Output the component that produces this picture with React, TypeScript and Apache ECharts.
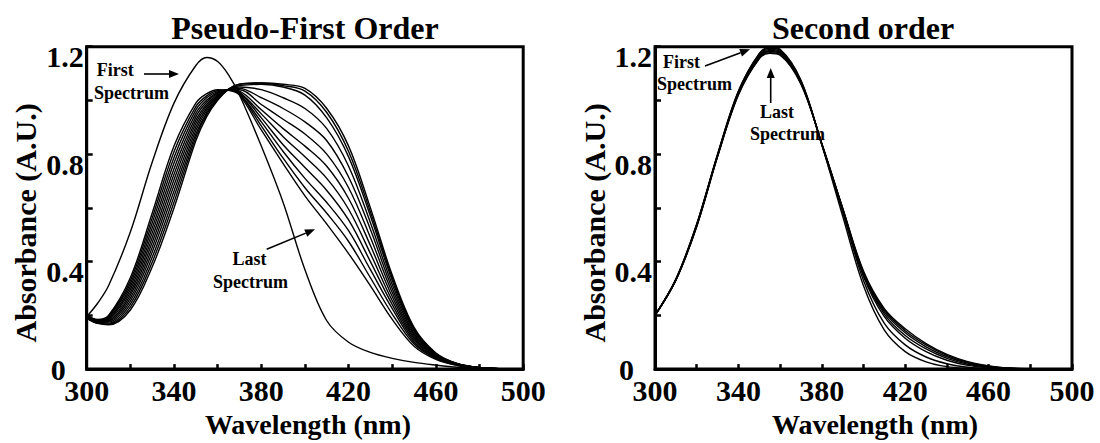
import React, { useEffect, useRef } from "react";
import * as echarts from "echarts";

// ---------- data ----------
const wavelengthsLeft = [300, 305, 310, 320, 330, 340, 350, 355, 360, 365, 370, 380, 390, 400, 410, 420, 430, 440, 450, 460, 470, 480, 490, 500];

const pfoFirst = [0.195, 0.245, 0.31, 0.51, 0.77, 0.99, 1.13, 1.16, 1.145, 1.095, 1.02, 0.83, 0.62, 0.37, 0.18, 0.1, 0.062, 0.04, 0.025, 0.015, 0.007, 0.003, 0.001, 0];
const pfo1 = [0.19, 0.17, 0.165, 0.22, 0.38, 0.6, 0.85, 0.94, 1.0, 1.042, 1.06, 1.065, 1.06, 1.045, 0.97, 0.83, 0.6, 0.35, 0.155, 0.06, 0.02, 0.006, 0.001, 0];
const pfo2 = [0.19, 0.171, 0.168, 0.231, 0.398, 0.621, 0.863, 0.948, 1.004, 1.042, 1.06, 1.065, 1.055, 1.035, 0.955, 0.81, 0.585, 0.34, 0.15, 0.058, 0.02, 0.006, 0.001, 0];
const pfo3 = [0.19, 0.173, 0.171, 0.242, 0.416, 0.642, 0.875, 0.955, 1.007, 1.041, 1.055, 1.06, 1.05, 1.02, 0.935, 0.79, 0.57, 0.33, 0.145, 0.056, 0.019, 0.006, 0.001, 0];
const pfo4 = [0.195, 0.174, 0.175, 0.253, 0.435, 0.663, 0.888, 0.963, 1.011, 1.041, 1.05, 1.04, 1.01, 0.97, 0.895, 0.755, 0.545, 0.315, 0.14, 0.054, 0.019, 0.005, 0.001, 0];
const pfo5 = [0.195, 0.175, 0.178, 0.264, 0.453, 0.684, 0.901, 0.971, 1.015, 1.04, 1.045, 1.01, 0.97, 0.92, 0.85, 0.715, 0.52, 0.3, 0.133, 0.052, 0.018, 0.005, 0.001, 0];
const pfo6 = [0.195, 0.177, 0.181, 0.275, 0.471, 0.705, 0.914, 0.979, 1.018, 1.04, 1.04, 0.985, 0.93, 0.875, 0.8, 0.675, 0.49, 0.285, 0.127, 0.05, 0.018, 0.005, 0.001, 0];
const pfo7 = [0.195, 0.178, 0.184, 0.285, 0.489, 0.725, 0.926, 0.986, 1.022, 1.04, 1.035, 0.965, 0.895, 0.83, 0.755, 0.635, 0.46, 0.27, 0.12, 0.048, 0.017, 0.005, 0.001, 0];
const pfo8 = [0.2, 0.179, 0.187, 0.296, 0.507, 0.746, 0.939, 0.994, 1.026, 1.04, 1.03, 0.95, 0.865, 0.79, 0.71, 0.595, 0.43, 0.255, 0.114, 0.046, 0.016, 0.005, 0.001, 0];
const pfo9 = [0.2, 0.181, 0.19, 0.307, 0.525, 0.767, 0.952, 1.002, 1.029, 1.039, 1.03, 0.935, 0.835, 0.75, 0.665, 0.555, 0.4, 0.24, 0.107, 0.044, 0.016, 0.005, 0.001, 0];
const pfo10 = [0.2, 0.182, 0.194, 0.318, 0.544, 0.788, 0.965, 1.01, 1.033, 1.039, 1.025, 0.92, 0.81, 0.71, 0.62, 0.515, 0.37, 0.225, 0.1, 0.042, 0.015, 0.004, 0.001, 0];
const pfo11 = [0.2, 0.183, 0.197, 0.329, 0.562, 0.809, 0.977, 1.017, 1.036, 1.038, 1.025, 0.905, 0.785, 0.675, 0.58, 0.475, 0.34, 0.205, 0.093, 0.039, 0.014, 0.004, 0.001, 0];
const pfo12 = [0.2, 0.185, 0.2, 0.34, 0.58, 0.83, 0.99, 1.025, 1.04, 1.038, 1.02, 0.89, 0.765, 0.645, 0.54, 0.43, 0.31, 0.185, 0.085, 0.036, 0.013, 0.004, 0.001, 0];

const wavelengthsRight = [300, 310, 320, 330, 340, 350, 355, 360, 370, 380, 390, 400, 410, 420, 430, 440, 450, 460, 470, 480, 490, 500];

const so1 = [0.2, 0.335, 0.54, 0.8, 1.035, 1.175, 1.198, 1.19, 1.075, 0.835, 0.57, 0.31, 0.145, 0.065, 0.027, 0.009, 0.003, 0.001, 0, 0, 0, 0];
const so2 = [0.2, 0.334, 0.538, 0.798, 1.033, 1.172, 1.194, 1.186, 1.073, 0.836, 0.585, 0.33, 0.17, 0.09, 0.045, 0.02, 0.007, 0.002, 0.001, 0, 0, 0];
const so3 = [0.2, 0.333, 0.537, 0.797, 1.03, 1.168, 1.19, 1.182, 1.07, 0.837, 0.592, 0.345, 0.195, 0.115, 0.065, 0.033, 0.014, 0.005, 0.001, 0, 0, 0];
const so4 = [0.2, 0.332, 0.535, 0.795, 1.028, 1.165, 1.186, 1.179, 1.068, 0.838, 0.595, 0.35, 0.205, 0.125, 0.075, 0.04, 0.018, 0.007, 0.002, 0.001, 0, 0];
const so5 = [0.2, 0.332, 0.533, 0.793, 1.025, 1.162, 1.182, 1.175, 1.065, 0.838, 0.597, 0.355, 0.213, 0.135, 0.083, 0.046, 0.022, 0.009, 0.003, 0.001, 0, 0];
const so6 = [0.2, 0.331, 0.532, 0.792, 1.023, 1.158, 1.178, 1.171, 1.063, 0.839, 0.599, 0.36, 0.22, 0.143, 0.09, 0.051, 0.025, 0.011, 0.003, 0.001, 0, 0];
const so7 = [0.2, 0.33, 0.53, 0.79, 1.02, 1.155, 1.175, 1.168, 1.06, 0.84, 0.6, 0.365, 0.225, 0.15, 0.095, 0.055, 0.028, 0.012, 0.004, 0.001, 0, 0];

const xTickLabels = [300, 340, 380, 420, 460, 500];
const yTickLabels = [0, 0.4, 0.8, 1.2];

const titles = ["Pseudo-First Order", "Second order"];
const xName = "Wavelength (nm)";
const yName = "Absorbance (A.U.)";

// ---------- styling ----------
const FONT = "Liberation Serif, Times New Roman, serif";
const BLACK = "#000";

function arrow(x1: number, y1: number, x2: number, y2: number) {
  const dx = x2 - x1;
  const dy = y2 - y1;
  const len = Math.sqrt(dx * dx + dy * dy);
  const ux = dx / len;
  const uy = dy / len;
  const hl = 10;
  const hw = 4;
  const bx = x2 - ux * hl;
  const by = y2 - uy * hl;
  return [
    {
      type: "line",
      shape: { x1, y1, x2: bx, y2: by },
      style: { stroke: BLACK, lineWidth: 1.6 },
      silent: true,
      z: 10,
    },
    {
      type: "polygon",
      shape: {
        points: [
          [x2, y2],
          [bx - uy * hw, by + ux * hw],
          [bx + uy * hw, by - ux * hw],
        ],
      },
      style: { fill: BLACK },
      silent: true,
      z: 10,
    },
  ];
}

function note(text: string, x: number, y: number) {
  return {
    type: "text",
    x,
    y,
    silent: true,
    z: 10,
    style: {
      text,
      fill: BLACK,
      fontFamily: FONT,
      fontWeight: "bold",
      fontSize: 18,
      align: "left",
      verticalAlign: "middle",
    },
  };
}

function heading(text: string, x: number, y: number) {
  return {
    type: "text",
    x,
    y,
    silent: true,
    style: {
      text,
      fill: BLACK,
      fontFamily: FONT,
      fontWeight: "bold",
      fontSize: 32,
      align: "center",
      verticalAlign: "middle",
    },
  };
}

function makeXAxis(gridIndex: number, shift: number) {
  return {
    gridIndex,
    type: "value",
    min: 300,
    max: 500,
    interval: 20,
    axisLine: { show: true, onZero: false, lineStyle: { color: BLACK, width: 3 } },
    axisTick: { show: true, inside: true, length: 5, lineStyle: { color: BLACK, width: 2.5 } },
    axisLabel: {
      color: BLACK,
      fontFamily: FONT,
      fontWeight: "bold",
      fontSize: 30,
      margin: 6,
      formatter: (v: number) => (xTickLabels.includes(v) ? String(v) : ""),
    },
    splitLine: { show: false },
    name: xName,
    nameLocation: "middle",
    nameGap: 40,
    nameTextStyle: {
      color: BLACK,
      fontFamily: FONT,
      fontWeight: "bold",
      fontSize: 28,
      padding: [0, 0, 0, shift],
    },
  };
}

function makeYAxis(gridIndex: number, zeroPad: number) {
  const labelStyle = { color: BLACK, fontFamily: FONT, fontWeight: "bold", fontSize: 30 };
  return {
    gridIndex,
    type: "value",
    min: 0,
    max: 1.2,
    interval: 0.2,
    axisLine: { show: true, onZero: false, lineStyle: { color: BLACK, width: 3 } },
    axisTick: { show: true, inside: true, length: 6, lineStyle: { color: BLACK, width: 2.5 } },
    axisLabel: {
      margin: 3,
      formatter: (v: number) => {
        const r = Math.round(v * 10);
        const hit = yTickLabels.find((t) => Math.round(t * 10) === r);
        if (hit === undefined) return "";
        if (r === 0) return "{z|0}";
        return "{n|" + hit.toFixed(1) + "}";
      },
      rich: {
        n: { ...labelStyle, padding: [20, 0, 0, 0] },
        z: { ...labelStyle, padding: [0, zeroPad, 0, 0] },
      },
    },
    splitLine: { show: false },
    name: yName,
    nameLocation: "middle",
    nameRotate: 90,
    nameGap: 46,
    nameTextStyle: {
      color: BLACK,
      fontFamily: FONT,
      fontWeight: "bold",
      fontSize: 30,
      padding: [0, 30, 0, 0],
    },
  };
}

function lineSeries(wl: number[], values: number[], idx: number) {
  return {
    type: "line",
    xAxisIndex: idx,
    yAxisIndex: idx,
    data: wl.map((w, i) => [w, values[i]]),
    showSymbol: false,
    symbol: "none",
    smooth: 0.35,
    lineStyle: { color: BLACK, width: 1.4 },
    silent: true,
    z: 3,
  };
}

export default function App() {
  const ref = useRef<HTMLDivElement>(null);

  useEffect(() => {
    document.body.style.margin = "0";
    if (!ref.current) return;
    const chart = echarts.init(ref.current, undefined, { renderer: "svg" });

    const leftSpectra = [pfoFirst, pfo1, pfo2, pfo3, pfo4, pfo5, pfo6, pfo7, pfo8, pfo9, pfo10, pfo11, pfo12];
    const rightSpectra = [so1, so2, so3, so4, so5, so6, so7];

    const option = {
      animation: false,
      backgroundColor: "#fff",
      textStyle: { fontFamily: FONT },
      grid: [
        { left: 86.7, top: 46.7, width: 436.5, height: 326, show: true, borderColor: BLACK, borderWidth: 3, backgroundColor: "transparent", containLabel: false },
        { left: 655, top: 46.7, width: 417, height: 326, show: true, borderColor: BLACK, borderWidth: 3, backgroundColor: "transparent", containLabel: false },
      ],
      xAxis: [makeXAxis(0, 6), makeXAxis(1, 23)],
      yAxis: [makeYAxis(0, 18), makeYAxis(1, 18)],
      series: [
        ...leftSpectra.map((s) => lineSeries(wavelengthsLeft, s, 0)),
        ...rightSpectra.map((s) => lineSeries(wavelengthsRight, s, 1)),
      ],
      graphic: [
        heading(titles[0], 305, 27.5),
        heading(titles[1], 863, 27.5),
        note("First", 96.7, 69.5),
        note("Spectrum", 94, 93.3),
        ...arrow(144, 74, 179, 74),
        note("Last", 232.5, 259),
        note("Spectrum", 213, 281.5),
        ...arrow(266.7, 249.3, 315, 229.3),
        note("First", 663, 61.5),
        note("Spectrum", 657, 83.5),
        ...arrow(705, 66, 750, 49.3),
        note("Last", 760, 111.5),
        note("Spectrum", 750, 133.5),
        ...arrow(770.7, 103, 770.7, 68),
      ],
    };

    chart.setOption(option as any);
    return () => {
      chart.dispose();
    };
  }, []);

  return <div ref={ref} style={{ width: 1100, height: 443 }} />;
}
